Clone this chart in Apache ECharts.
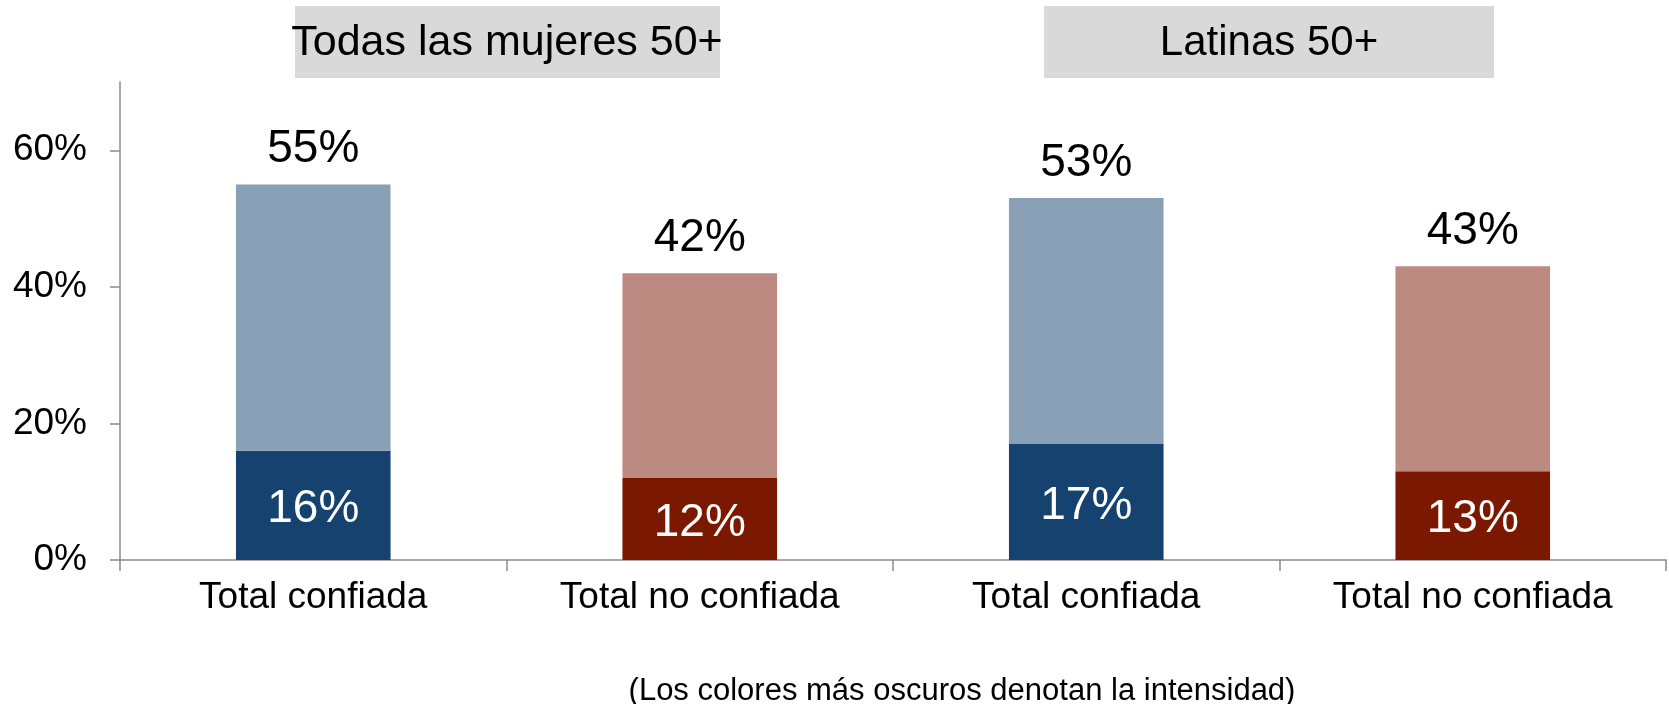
<!DOCTYPE html>
<html>
<head>
<meta charset="utf-8">
<script src="https://cdn.jsdelivr.net/npm/echarts@6/dist/echarts.min.js"></script>
<style>
  html, body { margin: 0; padding: 0; background: #fff; }
  #chart { width: 1669px; height: 704px; }
</style>
</head>
<body>
<div id="chart"></div>
<script>
// datos
const categories = ['Total confiada', 'Total no confiada', 'Total confiada', 'Total no confiada'];
const totals = [55, 42, 53, 43];      // total (claro + oscuro)
const intense = [16, 12, 17, 13];     // parte oscura (intensidad)
const yTicks = [0, 20, 40, 60];
const groups = ['Todas las mujeres 50+', 'Latinas 50+'];

const darkColors = ['#15426e', '#7b1900', '#15426e', '#7b1900'];
const lightColors = ['#89a0b7', '#bc8a80', '#89a0b7', '#bc8a80'];
const FONT = 'Liberation Sans, Arial, sans-serif';
const AXIS_GRAY = '#8c8c8c';

// parte clara = total - oscura
const rest = totals.map((t, i) => t - intense[i]);

const chart = echarts.init(document.getElementById('chart'));

const option = {
  backgroundColor: '#ffffff',
  animation: false,
  grid: { left: 120, right: 3, top: 82, bottom: 144 },
  xAxis: {
    type: 'category',
    data: categories,
    axisLine: { show: true, lineStyle: { color: AXIS_GRAY, width: 1.5 } },
    axisTick: { show: true, alignWithLabel: false, inside: false, length: 11, lineStyle: { color: AXIS_GRAY, width: 1.5 } },
    axisLabel: { color: '#000', fontSize: 37, fontFamily: FONT, margin: 19 }
  },
  yAxis: {
    type: 'value',
    min: 0,
    max: 70,
    interval: 20,
    splitLine: { show: false },
    axisLine: { show: true, lineStyle: { color: AXIS_GRAY, width: 1.5 } },
    axisTick: { show: true, inside: false, length: 10, customValues: yTicks, lineStyle: { color: AXIS_GRAY, width: 1.5 } },
    axisLabel: {
      color: '#000', fontSize: 37, fontFamily: FONT, margin: 33,
      customValues: yTicks,
      formatter: v => v + '%'
    }
  },
  series: [
    {
      name: 'intensa',
      type: 'bar',
      stack: 'total',
      barWidth: '40%',
      data: intense.map((v, i) => ({ value: v, itemStyle: { color: darkColors[i] } })),
      label: {
        show: true,
        position: 'inside',
        offset: [0, 4],
        color: '#fff',
        fontSize: 46,
        fontFamily: FONT,
        formatter: p => p.value + '%'
      }
    },
    {
      name: 'resto',
      type: 'bar',
      stack: 'total',
      barWidth: '40%',
      data: rest.map((v, i) => ({ value: v, itemStyle: { color: lightColors[i] } })),
      label: {
        show: true,
        position: 'top',
        distance: 12,
        color: '#000',
        fontSize: 46,
        fontFamily: FONT,
        formatter: p => totals[p.dataIndex] + '%'
      }
    }
  ],
  graphic: [
    { type: 'rect', left: 295, top: 6, shape: { width: 425, height: 72 }, style: { fill: '#d9d9d9' } },
    { type: 'rect', left: 1044, top: 6, shape: { width: 450, height: 72 }, style: { fill: '#d9d9d9' } },
    {
      type: 'text', x: 507, y: 43,
      style: { text: groups[0], fill: '#000', font: '43px ' + FONT, textAlign: 'center', textVerticalAlign: 'middle' }
    },
    {
      type: 'text', x: 1269, y: 43,
      style: { text: groups[1], fill: '#000', font: '42px ' + FONT, textAlign: 'center', textVerticalAlign: 'middle' }
    },
    {
      type: 'text', x: 962, y: 691,
      style: { text: '(Los colores más oscuros denotan la intensidad)', fill: '#000', font: '31px ' + FONT, textAlign: 'center', textVerticalAlign: 'middle' }
    }
  ]
};

chart.setOption(option);
</script>
</body>
</html>
